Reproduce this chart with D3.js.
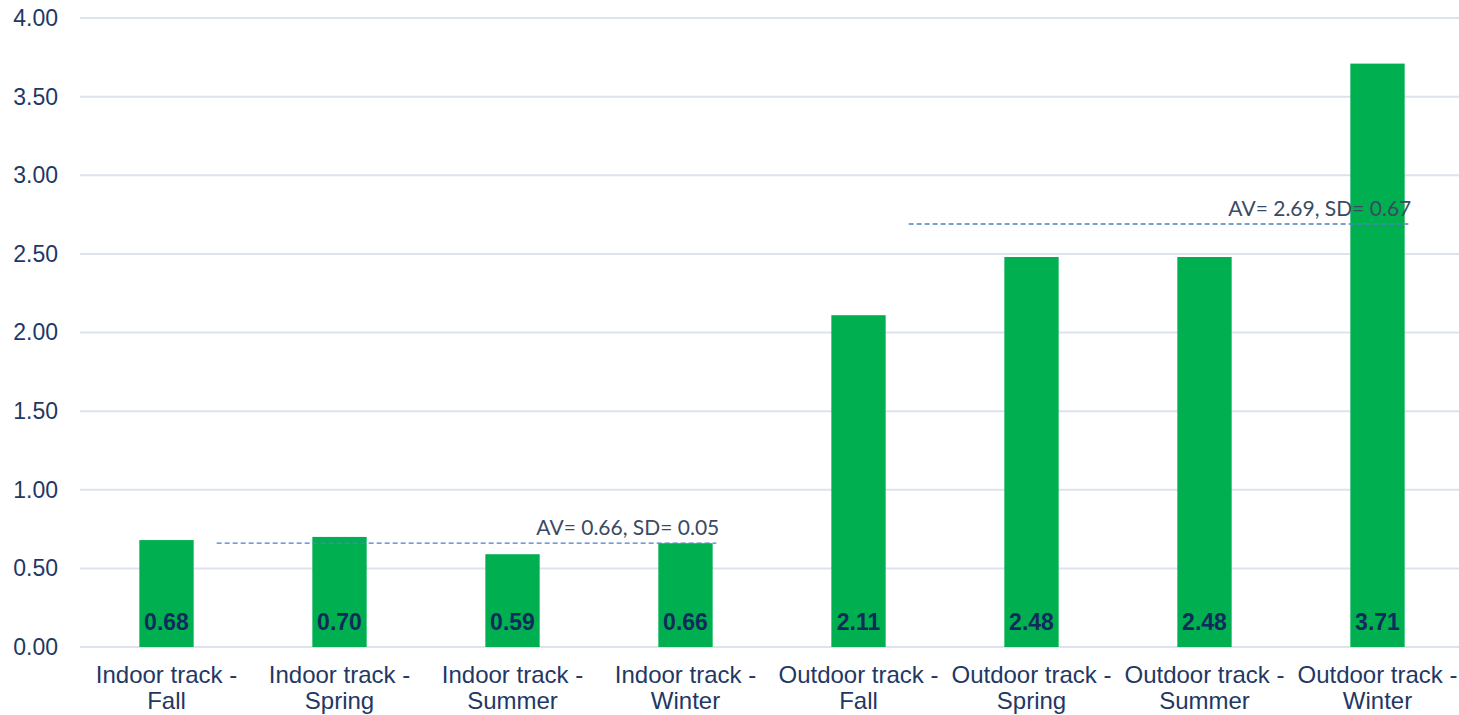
<!DOCTYPE html>
<html>
<head>
<meta charset="utf-8">
<script src="https://cdn.jsdelivr.net/npm/d3@7/dist/d3.min.js"></script>
<style>
  html, body { margin: 0; padding: 0; background: #ffffff; }
  svg { display: block; }
</style>
</head>
<body>
<svg id="chart" width="1459" height="715"></svg>
<script>
// Category labels (two lines each) and values
const categoryLine1 = ["Indoor track -", "Indoor track -", "Indoor track -", "Indoor track -",
                       "Outdoor track -", "Outdoor track -", "Outdoor track -", "Outdoor track -"];
const categoryLine2 = ["Fall", "Spring", "Summer", "Winter", "Fall", "Spring", "Summer", "Winter"];
const values = [0.68, 0.70, 0.59, 0.66, 2.11, 2.48, 2.48, 3.71];
const yTicks = [0, 0.5, 1, 1.5, 2, 2.5, 3, 3.5, 4];

// Group averages shown as dashed reference lines
const groupFirst = [0, 4];
const groupLast = [3, 7];
const groupAverage = [0.66, 2.69];
const groupSD = [0.05, 0.67];

const svg = d3.select("#chart");
const W = 1459, H = 715;
const plotLeft = 80, plotRight = 1464, plotTop = 18, plotBottom = 647;
const sansFont = "'Liberation Sans', Arial, sans-serif";

const x = d3.scaleBand()
  .domain(d3.range(values.length))
  .range([plotLeft, plotRight])
  .paddingInner(0.686)
  .paddingOuter(0.343);

const y = d3.scaleLinear().domain([0, 4]).range([plotBottom, plotTop]);

// Horizontal gridlines
svg.append("g").selectAll("line")
  .data(yTicks)
  .join("line")
  .attr("x1", plotLeft)
  .attr("x2", W)
  .attr("y1", d => y(d))
  .attr("y2", d => y(d))
  .attr("stroke", "#dde3ee")
  .attr("stroke-width", 2);

// Y axis labels
const yAxis = d3.axisLeft(y)
  .tickValues(yTicks)
  .tickFormat(d3.format(".2f"))
  .tickSize(0)
  .tickPadding(0);
const yg = svg.append("g")
  .attr("transform", `translate(58,0)`)
  .call(yAxis);
yg.select(".domain").remove();
yg.selectAll("text")
  .attr("font-family", sansFont)
  .attr("font-size", 23)
  .attr("fill", "#1f3864");

// Bars
svg.append("g").selectAll("rect")
  .data(values)
  .join("rect")
  .attr("x", (d, i) => x(i))
  .attr("width", x.bandwidth())
  .attr("y", d => y(d))
  .attr("height", d => y(0) - y(d))
  .attr("fill", "#00b050");

// Value labels at the bottom of each bar
svg.append("g").selectAll("text")
  .data(values)
  .join("text")
  .attr("x", (d, i) => x(i) + x.bandwidth() / 2)
  .attr("y", y(0) - 17)
  .attr("text-anchor", "middle")
  .attr("font-family", sansFont)
  .attr("font-weight", "bold")
  .attr("font-size", 23)
  .attr("fill", "#0f2b5b")
  .text(d => d.toFixed(2));

// Category labels
const cat = svg.append("g").selectAll("text")
  .data(values.map((v, i) => i))
  .join("text")
  .attr("text-anchor", "middle")
  .attr("font-family", sansFont)
  .attr("font-size", 24)
  .attr("fill", "#1f3864");
cat.append("tspan")
  .attr("x", i => x(i) + x.bandwidth() / 2)
  .attr("y", 683)
  .text(i => categoryLine1[i]);
cat.append("tspan")
  .attr("x", i => x(i) + x.bandwidth() / 2)
  .attr("y", 709)
  .text(i => categoryLine2[i]);

// Average reference lines with annotations
const step = x.step();
const ref = svg.append("g");
groupAverage.forEach((avg, g) => {
  const cFirst = x(groupFirst[g]) + x.bandwidth() / 2;
  const cLast = x(groupLast[g]) + x.bandwidth() / 2;
  const x1 = cFirst + 0.29 * step;
  const x2 = cLast + 0.178 * step;
  ref.append("line")
    .attr("x1", x1)
    .attr("x2", x2)
    .attr("y1", y(avg))
    .attr("y2", y(avg))
    .attr("stroke", "#4f7fc8")
    .attr("stroke-width", 1.3)
    .attr("stroke-dasharray", "5,3");
  ref.append("text")
    .attr("x", x2 + 3)
    .attr("y", y(avg) - 8)
    .attr("text-anchor", "end")
    .attr("font-family", "Lato, 'Open Sans', sans-serif")
    .attr("font-size", 21)
    .attr("fill", "#3b4a63")
    .text(`AV= ${avg.toFixed(2)}, SD= ${groupSD[g].toFixed(2)}`);
});
</script>
</body>
</html>
